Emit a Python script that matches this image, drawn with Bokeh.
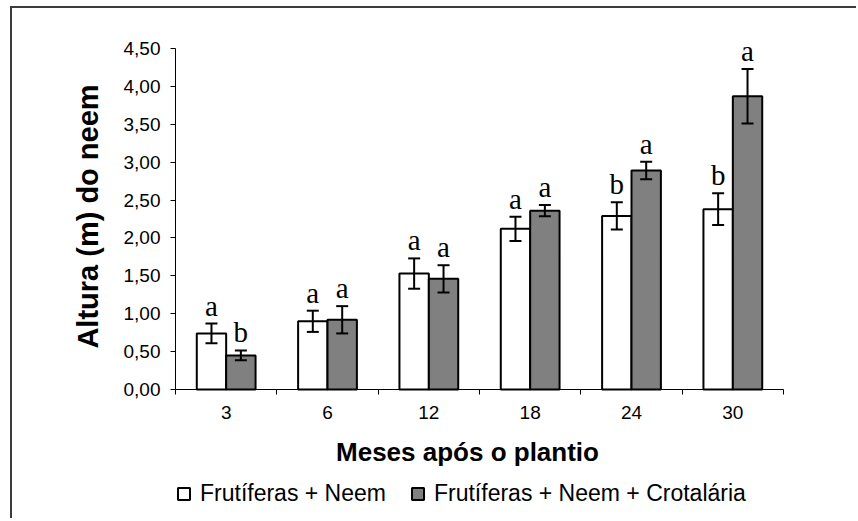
import math
from bokeh.plotting import figure
from bokeh.models import (ColumnDataSource, Range1d, FixedTicker, CustomJSTickFormatter,
                          Whisker, TeeHead, Legend, LegendItem, Label)
from bokeh.core.properties import value
from bokeh.embed import file_html
from bokeh.resources import INLINE

# Months after planting (categories)
months = ["3", "6", "12", "18", "24", "30"]

# Mean neem height (m) and error, treatment "Frutíferas + Neem"
height_fn = [0.74, 0.90, 1.53, 2.12, 2.29, 2.38]
err_fn = [0.13, 0.14, 0.20, 0.16, 0.18, 0.21]
letters_fn = ["a", "a", "a", "a", "b", "b"]

# Mean neem height (m) and error, treatment "Frutíferas + Neem + Crotalária"
height_fnc = [0.45, 0.92, 1.46, 2.36, 2.89, 3.87]
err_fnc = [0.065, 0.18, 0.18, 0.075, 0.115, 0.36]
letters_fnc = ["b", "a", "a", "a", "a", "a"]

series_names = ["Frutíferas + Neem", "Frutíferas + Neem + Crotalária"]
x_title = "Meses após o plantio"
y_title = "Altura (m) do neem"
y_ticks = [0.0, 0.5, 1.0, 1.5, 2.0, 2.5, 3.0, 3.5, 4.0, 4.5]
y_max = 4.5

BAR_W = 0.29
n = len(months)
centers = [i + 0.5 for i in range(n)]

# Canvas layout in pixels. The plot frame fills the whole canvas; both axes
# are pinned at 0 so titles, tick labels and legend all sit inside the frame.
W, H = 846, 512
AXIS_X, AXIS_Y = 163, 381          # pixel column of x = 0, pixel row of y = 0
PX_PER_CAT = 608 / n
PX_PER_UNIT = (AXIS_Y - 40) / y_max


def px_to_x(px):
    return (px - AXIS_X) / PX_PER_CAT


def px_to_y(py):
    return (AXIS_Y - py) / PX_PER_UNIT


def make_source(heights, errs, letters, shift):
    return ColumnDataSource(dict(
        x=[c + shift for c in centers],
        top=heights,
        upper=[h + e for h, e in zip(heights, errs)],
        lower=[h - e for h, e in zip(heights, errs)],
        letter=letters,
    ))


src_fn = make_source(height_fn, err_fn, letters_fn, -BAR_W / 2)
src_fnc = make_source(height_fnc, err_fnc, letters_fnc, BAR_W / 2)

p = figure(width=W, height=H,
           x_range=Range1d(px_to_x(0), px_to_x(W)),
           y_range=Range1d(px_to_y(H), px_to_y(0)),
           output_backend="svg", toolbar_location=None,
           min_border=0)
p.styles = {"margin-left": "10px", "margin-top": "6px",
            "border-left": "2px solid #3c3c3c", "border-top": "2px solid #3c3c3c"}

p.outline_line_color = None
p.xgrid.visible = False
p.ygrid.visible = False
p.background_fill_color = "white"
p.border_fill_color = "white"

r_fn = p.vbar(x="x", top="top", bottom=0, width=BAR_W, source=src_fn,
              fill_color="white", line_color="black", line_width=2)
r_fnc = p.vbar(x="x", top="top", bottom=0, width=BAR_W, source=src_fnc,
               fill_color="#808080", line_color="black", line_width=2)

for src in (src_fn, src_fnc):
    w = Whisker(base="x", upper="upper", lower="lower", source=src,
                line_color="black", line_width=2, level="annotation",
                upper_head=TeeHead(size=12, line_width=2, line_color="black"),
                lower_head=TeeHead(size=12, line_width=2, line_color="black"))
    p.add_layout(w)
    # significance letters just above each error bar
    p.text(x="x", y="upper", text="letter", source=src,
           text_font=value("Liberation Serif"), text_font_size="29px",
           text_align="center", text_baseline="alphabetic", y_offset=-18,
           text_color="black")

# x axis pinned at y = 0: labels at category centres, tick marks between categories
p.xaxis.fixed_location = 0
p.xaxis.bounds = (0, n)
p.xaxis.ticker = FixedTicker(ticks=centers, minor_ticks=list(range(n + 1)))
p.xaxis.formatter = CustomJSTickFormatter(args=dict(labels=months),
                                          code="return labels[Math.floor(tick)];")
p.xaxis.major_tick_out = 0
p.xaxis.major_tick_in = 0
p.xaxis.minor_tick_out = 5
p.xaxis.minor_tick_in = 0
p.xaxis.major_label_standoff = 11
p.xaxis.major_label_text_font = "Liberation Sans"
p.xaxis.major_label_text_font_size = "19px"
p.xaxis.major_label_text_color = "black"
p.xaxis.axis_line_color = "black"
p.xaxis.minor_tick_line_color = "black"

# y axis pinned at x = 0, with decimal comma
p.yaxis.fixed_location = 0
p.yaxis.bounds = (0, y_max)
p.yaxis.ticker = FixedTicker(ticks=y_ticks, minor_ticks=[])
p.yaxis.formatter = CustomJSTickFormatter(code="return tick.toFixed(2).replace('.', ',');")
p.yaxis.major_tick_out = 5
p.yaxis.major_tick_in = 0
p.yaxis.major_label_standoff = 10
p.yaxis.major_label_text_font = "Liberation Sans"
p.yaxis.major_label_text_font_size = "19px"
p.yaxis.major_label_text_color = "black"
p.yaxis.axis_line_color = "black"
p.yaxis.major_tick_line_color = "black"

# axis titles
p.add_layout(Label(x=px_to_x(455), y=px_to_y(443), text=x_title,
                   text_font="Liberation Sans", text_font_style="bold",
                   text_font_size="26px", text_color="black",
                   text_align="center", text_baseline="middle"))
p.add_layout(Label(x=px_to_x(75), y=px_to_y(208), text=y_title, angle=math.pi / 2,
                   text_font="Liberation Sans", text_font_style="bold",
                   text_font_size="29px", text_color="black",
                   text_align="center", text_baseline="middle"))

# legend under the x-axis title
legend = Legend(items=[LegendItem(label=series_names[0], renderers=[r_fn]),
                       LegendItem(label=series_names[1], renderers=[r_fnc])],
                orientation="horizontal", location=(164, 13),
                label_text_font="Liberation Sans", label_text_font_size="23px",
                label_text_color="black",
                glyph_width=15, glyph_height=15, label_standoff=9, spacing=24,
                border_line_color=None, background_fill_alpha=0,
                padding=0, margin=0)
p.add_layout(legend, "center")

open("out.html", "w").write(file_html(p, INLINE))
